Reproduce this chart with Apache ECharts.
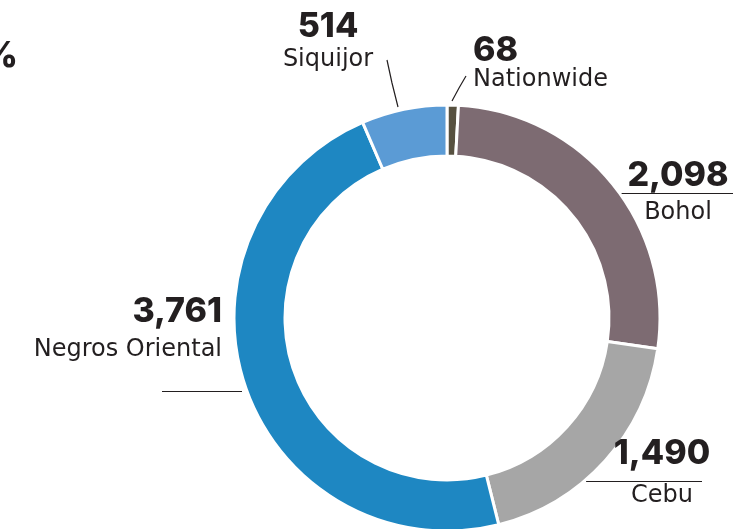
<!DOCTYPE html>
<html>
<head>
<meta charset="utf-8">
<script src="https://cdn.jsdelivr.net/npm/echarts@6/dist/echarts.min.js"></script>
<style>
  html, body { margin: 0; padding: 0; background: #fff; }
  #main { width: 742px; height: 529px; }
</style>
</head>
<body>
<div id="main"></div>
<script>
// data
var regions = ["Nationwide", "Bohol", "Cebu", "Negros Oriental", "Siquijor"];
var counts = [68, 2098, 1490, 3761, 514];
var colors = ["#575140", "#7d6b72", "#a6a6a6", "#1e87c2", "#5b9bd5"];

// where each label sits (x, y of the text block, align, gap under the number, leader line)
var labelPos = {
  "Nationwide": { x: 473, y: 31, align: "left", nameLh: 18, line: [[452, 101], [459, 88], [466, 76]] },
  "Bohol": { x: 678, y: 156, align: "center", nameLh: 34, line: [[621, 193.5], [677, 193.5], [733, 193.5]] },
  "Cebu": { x: 662, y: 434, align: "center", nameLh: 44, line: [[586, 481.5], [644, 481.5], [702, 481.5]] },
  "Negros Oriental": { x: 222, y: 292, align: "right", nameLh: 36, line: [[242, 391.5], [200, 391.5], [162, 391.5]] },
  "Siquijor": { x: 328, y: 7, align: "center", nameLh: 26, line: [[398, 107], [392, 83], [387, 60]] }
};

var numFont = "Inter, 'Noto Sans', sans-serif";
var nameFont = "'DejaVu Sans', sans-serif";

var myChart = echarts.init(document.getElementById("main"));

var pieData = regions.map(function (r, i) {
  return {
    name: r,
    value: counts[i],
    itemStyle: { color: colors[i] },
    label: {
      rich: {
        n: { fontSize: 24, color: "#231f20", fontFamily: nameFont, lineHeight: labelPos[r].nameLh }
      }
    }
  };
});

myChart.setOption({
  title: {
    text: "%",
    left: -24,
    top: 33,
    textStyle: { fontSize: 36, fontWeight: 800, color: "#231f20", fontFamily: numFont }
  },
  series: [
    {
      type: "pie",
      center: [447, 318],
      radius: [162, 213],
      startAngle: 90,
      clockwise: true,
      avoidLabelOverlap: false,
      itemStyle: { borderColor: "#fff", borderWidth: 3 },
      label: {
        show: true,
        formatter: function (p) {
          return "{v|" + p.value.toLocaleString("en-US") + "}\n{n|" + p.name + "}";
        },
        rich: {
          v: { fontSize: 34, fontWeight: 800, color: "#231f20", fontFamily: numFont, lineHeight: 40 },
          n: { fontSize: 24, color: "#231f20", fontFamily: nameFont }
        }
      },
      labelLine: {
        show: true,
        lineStyle: { color: "#231f20", width: 1.2 }
      },
      labelLayout: function (params) {
        var name = regions[params.dataIndex];
        var p = labelPos[name];
        return {
          x: p.x,
          y: p.y,
          align: p.align,
          verticalAlign: "top",
          labelLinePoints: p.line
        };
      },
      data: pieData
    }
  ]
});
</script>
</body>
</html>
